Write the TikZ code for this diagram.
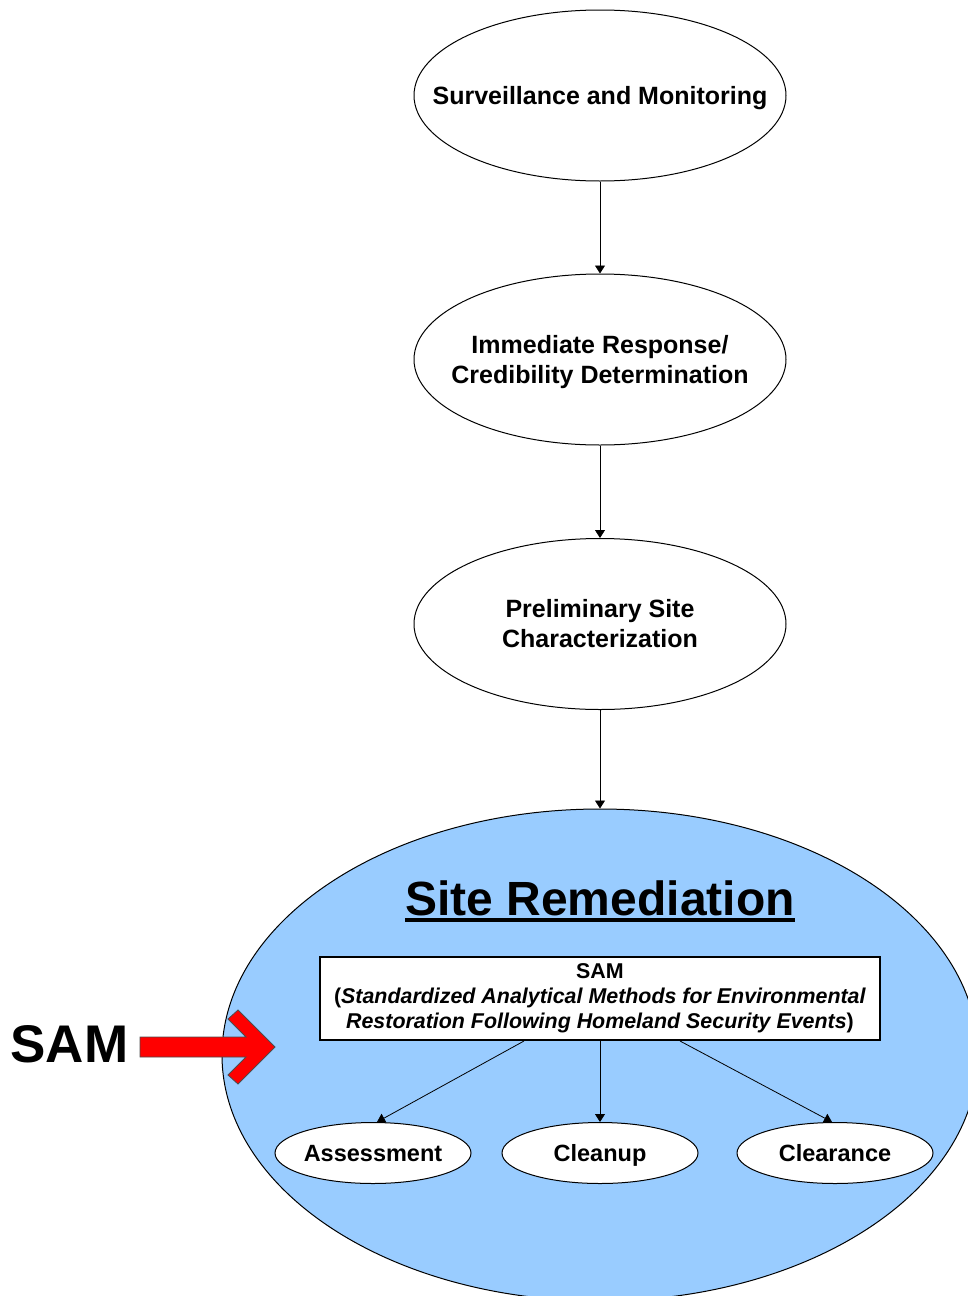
\documentclass[tikz,border=0pt]{standalone}
\usepackage{fontspec}
\setmainfont{Liberation Sans}
\usetikzlibrary{shapes.geometric,arrows.meta}
\definecolor{remedblue}{HTML}{99CCFF}
\definecolor{samred}{HTML}{FF0000}
\begin{document}
\begin{tikzpicture}[x=1pt,y=-1pt,
  stage/.style={ellipse,draw,line width=1pt,minimum width=372pt,minimum height=171pt,
    inner xsep=-120pt,inner ysep=0pt,align=center,font=\fontsize{25}{30}\selectfont\bfseries},
  task/.style={ellipse,draw,fill=white,line width=1pt,minimum width=196pt,minimum height=61pt,
    inner xsep=-40pt,inner ysep=0pt,text height=22pt,text depth=5pt,
    font=\fontsize{23.5}{28}\selectfont\bfseries},
  flow/.style={-{Triangle[length=8pt,width=10pt]},line width=0.8pt},
  methodbox/.style={rectangle,draw,fill=white,line width=2pt,minimum width=560pt,minimum height=83pt,
    inner sep=0pt,align=center,font=\fontsize{21.4}{25}\selectfont\bfseries},
]
\path[use as bounding box] (0,0) rectangle (968,1296);
\clip (0,0) rectangle (968,1296);

% process stages
\node[stage,text height=23pt,text depth=5pt] (surv) at (600,95.5) {Surveillance and Monitoring};
\node[stage,text depth=0pt] (resp) at (600,359.5) {Immediate Response/\\Credibility Determination};
\node[stage] (prelim) at (600,624) {Preliminary Site\\Characterization};

% remediation phase
\node[ellipse,draw,fill=remedblue,line width=1pt,minimum width=756pt,minimum height=492pt,inner sep=0pt]
  (remed) at (600,1055) {};

\draw[flow] (surv.south) -- (resp.north);
\draw[flow] (resp.south) -- (prelim.north);
\draw[flow] (prelim.south) -- (remed.north);

\node[inner sep=0pt,font=\fontsize{48}{58}\selectfont\bfseries] (title) at (600,898) {Site Remediation};
\draw[line width=4pt] ([yshift=-4.5pt]title.base west) -- ([yshift=-4.5pt]title.base east);

\node[methodbox] (sam) at (600,998.5)
  {SAM\\(\textit{Standardized Analytical Methods for Environmental}\\
   \textit{Restoration Following Homeland Security Events})};

\node[task] (assess) at (373,1153) {Assessment};
\node[task] (clean) at (600,1153) {Cleanup};
\node[task] (clear) at (835,1153) {Clearance};

\draw[flow] ([xshift=-76pt]sam.south) -- ([xshift=4pt]assess.north);
\draw[flow] (sam.south) -- (clean.north);
\draw[flow] ([xshift=80pt]sam.south) -- ([xshift=-3pt]clear.north);

% pointer into the remediation phase
\node[inner sep=0pt,font=\fontsize{53}{60}\selectfont\bfseries] (samlabel) at (69.5,1044) {SAM};
\draw[fill=samred,draw=black!70,line width=0.8pt]
  (140,1037) -- (246,1037) -- (228,1019) -- (238,1010) -- (275,1047)
  -- (238,1084) -- (228,1075) -- (246,1057) -- (140,1057) -- cycle;
\end{tikzpicture}
\end{document}
